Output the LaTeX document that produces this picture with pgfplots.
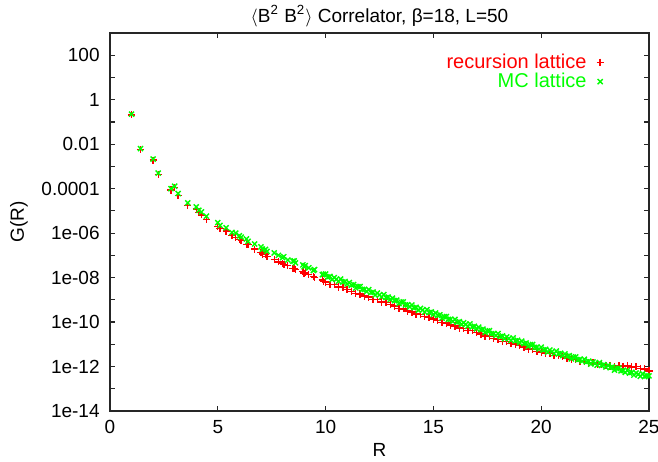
\documentclass[border=0pt]{standalone}
\usepackage{fontspec}
\setmainfont{Liberation Sans}
\usepackage{pgfplots}
\pgfplotsset{compat=1.18}
\definecolor{gpred}{RGB}{255,0,0}
\definecolor{gpgreen}{RGB}{0,255,0}

\begin{document}
\fontsize{9.5}{11}\selectfont
\begin{tikzpicture}
% 1px of the reference = 0.5pt
\useasboundingbox (-55pt,-25pt) rectangle (274pt,205.5pt);
\begin{axis}[
    at={(0,0)}, anchor=south west,
    scale only axis,
    width=269.5pt, height=189pt,
    ymode=log,
    xmin=0, xmax=25,
    ymin=1e-14, ymax=1e3,
    xtick={0,5,10,15,20,25},
    xticklabels={0,5,10,15,20,25},
    ytick={1e-14,1e-12,1e-10,1e-8,1e-6,1e-4,1e-2,1,1e2},
    yticklabels={1e-14,1e-12,1e-10,1e-08,1e-06,0.0001,0.01,1,100},
    minor ytick={1e-13,1e-11,1e-9,1e-7,1e-5,1e-3,1e-1,1e1},
    tick align=inside,
    major tick length=2.5pt, minor tick length=2.5pt,
    axis line style={line width=0.65pt, black!85},
    every tick/.style={line width=0.6pt, black!85},
    xticklabel style={anchor=base, inner sep=0pt, yshift=-11pt},
    yticklabel style={anchor=east, inner sep=0pt, xshift=-5pt},
    title={$\langle$B\textsuperscript{2} B\textsuperscript{2}$\rangle$ Correlator, β=18, L=50},
    title style={at={(axis description cs:0.5,1)}, anchor=base, inner sep=0pt, yshift=-0.5pt},
    xlabel={R},
    xlabel style={at={(axis description cs:0.5,0)}, anchor=base, inner sep=0pt, yshift=-22.5pt},
    ylabel={G(R)},
    ylabel style={at={(axis description cs:0,0.5)}, anchor=center, inner sep=0pt, yshift=45.5pt},
    legend plot pos=right,
    legend cell align=right,
    legend style={draw=none, fill=none, at={(0.928,0.965)}, anchor=north east,
        row sep=-2pt, column sep=3.5pt, nodes={inner sep=1.5pt}, font=\fontsize{10}{12}\selectfont},
]
\addplot[only marks, mark=+, mark size=1.8pt, color=gpred, mark options={draw=gpred}, line width=0.7pt] coordinates {
(1,0.209)(1.414,5.62e-3)(2,1.91e-3)(2.236,4.37e-4)(2.828,8.71e-5)(3,1.12e-4)
(3.162,4.79e-5)(3.606,1.74e-5)(4,1.20e-5)(4.123,8.32e-6)(4.243,6.61e-6)(4.472,3.98e-6)
(5,2.00e-6)(5.099,1.66e-6)(5.385,1.23e-6)(5.657,7.59e-7)(5.831,6.46e-7)(6,5.01e-7)
(6.083,4.68e-7)(6.325,3.09e-7)(6.403,3.16e-7)(6.708,1.91e-7)(7,1.32e-7)(7.071,1.15e-7)
(7.211,1.07e-7)(7.28,8.91e-8)(7.616,6.61e-8)(7.81,5.13e-8)(8,4.37e-8)(8.062,3.80e-8)
(8.246,3.55e-8)(8.485,2.63e-8)(8.544,2.57e-8)(8.602,2.34e-8)(8.944,1.91e-8)(9,1.58e-8)
(9.055,1.66e-8)(9.22,1.38e-8)(9.434,1.15e-8)(9.487,1.00e-8)(9.849,7.94e-9)(9.899,6.76e-9)
(10.0,6.31e-9)(10.2,5.01e-9)(10.4,4.79e-9)(10.6,3.80e-9)(10.8,3.55e-9)
(11.0,2.95e-9)(11.2,2.42e-9)(11.4,1.94e-9)(11.6,1.83e-9)(11.8,1.47e-9)
(12.0,1.32e-9)(12.2,1.05e-9)(12.4,1.01e-9)(12.6,8.05e-10)(12.8,7.55e-10)
(13.0,6.31e-10)(13.2,5.18e-10)(13.4,4.15e-10)(13.6,3.91e-10)(13.8,3.13e-10)
(14.0,2.82e-10)(14.2,2.26e-10)(14.4,2.18e-10)(14.6,1.75e-10)(14.8,1.64e-10)
(15.0,1.38e-10)(15.2,1.15e-10)(15.4,9.33e-11)(15.6,8.91e-11)(15.8,7.24e-11)
(16.0,6.61e-11)(16.2,5.37e-11)(16.4,5.25e-11)(16.6,4.27e-11)(16.8,4.07e-11)
(17.0,3.47e-11)(17.2,2.88e-11)(17.4,2.34e-11)(17.6,2.24e-11)(17.8,1.82e-11)
(18.0,1.66e-11)(18.2,1.36e-11)(18.4,1.33e-11)(18.6,1.09e-11)(18.8,1.04e-11)
(19.0,8.91e-12)(19.2,7.48e-12)(19.4,6.14e-12)(19.6,5.92e-12)(19.8,4.85e-12)
(20.0,4.47e-12)(20.2,3.75e-12)(20.4,3.78e-12)(20.6,3.18e-12)(20.8,3.13e-12)
(21.0,2.75e-12)(21.2,2.40e-12)(21.4,2.04e-12)(21.6,2.04e-12)(21.8,1.74e-12)
(22.0,1.66e-12)(22.2,1.42e-12)(22.4,1.46e-12)(22.6,1.25e-12)(22.8,1.25e-12)
(23.0,1.12e-12)(23.2,1.05e-12)(23.4,9.55e-13)(23.6,1.05e-12)(23.8,1.02e-12)
(24.0,1.12e-12)(24.2,9.55e-13)(24.4,9.77e-13)(24.6,8.13e-13)(24.8,7.76e-13)
(25.0,6.31e-13)
};
\addlegendentry{\textcolor{gpred}{recursion lattice}}
\addplot[only marks, mark=x, mark size=1.8pt, color=gpgreen, mark options={draw=gpgreen}, line width=0.7pt] coordinates {
(1,0.224)(1.414,6.31e-3)(2,2.14e-3)(2.236,5.01e-4)(2.828,1.00e-4)(3,1.29e-4)
(3.162,6.03e-5)(3.606,2.29e-5)(4,1.51e-5)(4.123,1.07e-5)(4.243,8.91e-6)(4.472,5.75e-6)
(5,2.95e-6)(5.099,2.24e-6)(5.385,1.74e-6)(5.657,1.07e-6)(5.831,1.00e-6)(6,7.59e-7)
(6.083,6.61e-7)(6.325,5.50e-7)(6.403,4.27e-7)(6.708,3.24e-7)(7,2.40e-7)(7.071,1.91e-7)
(7.211,1.86e-7)(7.28,1.51e-7)(7.616,1.29e-7)(7.81,1.00e-7)(8,7.94e-8)(8.062,8.71e-8)
(8.246,6.17e-8)(8.485,5.50e-8)(8.544,5.62e-8)(8.602,4.57e-8)(8.944,3.72e-8)(9,3.09e-8)
(9.055,3.47e-8)(9.22,2.75e-8)(9.434,2.09e-8)(9.487,2.29e-8)(9.849,1.35e-8)(9.899,1.41e-8)
(10.0,1.45e-8)(10.1,1.06e-8)(10.2,1.12e-8)(10.3,8.22e-9)(10.4,1.00e-8)
(10.5,8.41e-9)(10.6,6.76e-9)(10.7,8.61e-9)(10.8,6.31e-9)(10.9,6.68e-9)
(11.0,5.13e-9)(11.1,5.96e-9)(11.2,4.57e-9)(11.3,4.84e-9)(11.4,3.39e-9)
(11.5,3.94e-9)(11.6,3.98e-9)(11.7,2.92e-9)(11.8,2.95e-9)(11.9,2.37e-9)
(12.0,2.88e-9)(12.1,2.11e-9)(12.2,2.24e-9)(12.3,1.64e-9)(12.4,2.00e-9)
(12.5,1.68e-9)(12.6,1.35e-9)(12.7,1.72e-9)(12.8,1.26e-9)(12.9,1.33e-9)
(13.0,1.02e-9)(13.1,1.19e-9)(13.2,9.16e-10)(13.3,9.73e-10)(13.4,6.82e-10)
(13.5,7.94e-10)(13.6,8.05e-10)(13.7,5.92e-10)(13.8,6.00e-10)(13.9,4.83e-10)
(14.0,5.89e-10)(14.1,4.34e-10)(14.2,4.61e-10)(14.3,3.40e-10)(14.4,4.15e-10)
(14.5,3.51e-10)(14.6,2.83e-10)(14.7,3.62e-10)(14.8,2.67e-10)(14.9,2.84e-10)
(15.0,2.19e-10)(15.1,2.56e-10)(15.2,1.98e-10)(15.3,2.11e-10)(15.4,1.49e-10)
(15.5,1.74e-10)(15.6,1.77e-10)(15.7,1.31e-10)(15.8,1.33e-10)(15.9,1.08e-10)
(16.0,1.32e-10)(16.1,9.73e-11)(16.2,1.04e-10)(16.3,7.66e-11)(16.4,9.38e-11)
(16.5,7.94e-11)(16.6,6.43e-11)(16.7,8.24e-11)(16.8,6.08e-11)(16.9,6.49e-11)
(17.0,5.01e-11)(17.1,5.86e-11)(17.2,4.53e-11)(17.3,4.83e-11)(17.4,3.40e-11)
(17.5,3.98e-11)(17.6,4.06e-11)(17.7,2.99e-11)(17.8,3.05e-11)(17.9,2.47e-11)
(18.0,3.02e-11)(18.1,2.23e-11)(18.2,2.39e-11)(18.3,1.77e-11)(18.4,2.17e-11)
(18.5,1.84e-11)(18.6,1.49e-11)(18.7,1.92e-11)(18.8,1.42e-11)(18.9,1.52e-11)
(19.0,1.17e-11)(19.1,1.38e-11)(19.2,1.07e-11)(19.3,1.15e-11)(19.4,8.13e-12)
(19.5,9.55e-12)(19.6,9.77e-12)(19.7,7.24e-12)(19.8,7.41e-12)(19.9,6.03e-12)
(20.0,7.41e-12)(20.1,5.52e-12)(20.2,5.94e-12)(20.3,4.43e-12)(20.4,5.47e-12)
(20.5,4.68e-12)(20.6,3.82e-12)(20.7,4.94e-12)(20.8,3.68e-12)(20.9,3.96e-12)
(21.0,3.09e-12)(21.1,3.66e-12)(21.2,2.87e-12)(21.3,3.10e-12)(21.4,2.22e-12)
(21.5,2.63e-12)(21.6,2.72e-12)(21.7,2.03e-12)(21.8,2.10e-12)(21.9,1.72e-12)
(22.0,2.14e-12)(22.1,1.60e-12)(22.2,1.74e-12)(22.3,1.30e-12)(22.4,1.62e-12)
(22.5,1.40e-12)(22.6,1.15e-12)(22.7,1.50e-12)(22.8,1.12e-12)(22.9,1.22e-12)
(23.0,9.55e-13)(23.1,1.14e-12)(23.2,8.91e-13)(23.3,9.66e-13)(23.4,6.92e-13)
(23.5,8.22e-13)(23.6,8.51e-13)(23.7,6.38e-13)(23.8,6.61e-13)(23.9,5.43e-13)
(24.0,6.76e-13)(24.1,5.07e-13)(24.2,5.50e-13)(24.3,4.12e-13)(24.4,5.13e-13)
(24.5,4.42e-13)(24.6,3.63e-13)(24.7,4.73e-13)(24.8,3.55e-13)(24.9,3.85e-13)
(25.0,3.80e-13)
};
\addlegendentry{\textcolor{gpgreen}{MC lattice}}
\end{axis}
\end{tikzpicture}
\end{document}
